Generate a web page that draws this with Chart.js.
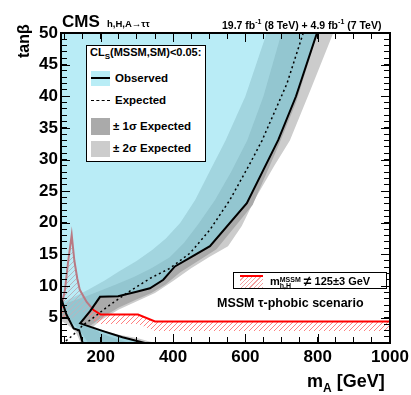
<!DOCTYPE html>
<html>
<head>
<meta charset="utf-8">
<script src="https://cdn.jsdelivr.net/npm/chart.js@4.4.0/dist/chart.umd.min.js"></script>
<style>
  body { margin: 0; background: #fff; }
  #wrap { position: relative; width: 411px; height: 395px; font-family: "Liberation Sans", Arial, sans-serif; font-weight: bold; color: #000; }
  #c { position: absolute; left: 0; top: 0; }
  .t { position: absolute; white-space: nowrap; line-height: 1; }
  .box { position: absolute; background: #fff; border: 1.5px solid #000; box-sizing: border-box; }
  .sw { position: absolute; }
  .tk { position: absolute; background: #000; }
</style>
</head>
<body>
<div id="wrap">
  <canvas id="c" width="411" height="395"></canvas>

  <div class="t" style="left:62px;top:13px;font-size:17px;">CMS</div>
  <div class="t" style="left:107px;top:19px;font-size:9.5px;">h,H,A&rarr;&tau;&tau;</div>
  <div class="t" style="left:222px;top:18px;font-size:10.5px;">19.7 fb<sup style="font-size:7px">-1</sup> (8 TeV) + 4.9 fb<sup style="font-size:7px">-1</sup> (7 TeV)</div>
  <div class="t" style="left:16px;top:58px;font-size:16px;transform:rotate(-90deg);transform-origin:0 0;">tan&beta;</div>
  <div class="t" style="left:307px;top:372px;font-size:18px;">m<sub style="font-size:12px">A</sub> [GeV]</div>

  <div class="box" style="left:86px;top:45px;width:120px;height:117px;"></div>
  <div class="t" style="left:90px;top:47px;font-size:11px;">CL<sub style="font-size:8px">S</sub>(MSSM,SM)&lt;0.05:</div>
  <div class="sw" style="left:91px;top:71px;width:19px;height:15px;background:#b9edf6;"></div>
  <div class="sw" style="left:91px;top:77px;width:19px;height:2px;background:#000;"></div>
  <div class="t" style="left:115px;top:73px;font-size:11.5px;">Observed</div>
  <div class="sw" style="left:91px;top:100px;width:19px;height:0;border-top:1.5px dashed #000;"></div>
  <div class="t" style="left:115px;top:95px;font-size:11.5px;">Expected</div>
  <div class="sw" style="left:91px;top:118px;width:19px;height:17px;background:#aaaaaa;"></div>
  <div class="t" style="left:113px;top:121px;font-size:11.5px;">&plusmn; 1&sigma; Expected</div>
  <div class="sw" style="left:91px;top:141px;width:19px;height:16px;background:#cccccc;"></div>
  <div class="t" style="left:113px;top:143px;font-size:11.5px;">&plusmn; 2&sigma; Expected</div>

  <div class="box" style="left:233px;top:272px;width:154px;height:17px;border-width:1px;"></div>
  <div class="sw" style="left:240px;top:275px;width:23px;height:11px;border-top:2px solid #ff0000;background:repeating-linear-gradient(135deg,#fff 0 2px,#f4a0a0 2px 3px);"></div>
  <div class="t" style="left:270px;top:274px;font-size:11px;">m<span style="display:inline-block;vertical-align:-3px;line-height:0.9;font-size:7px;">MSSM<br>h,H</span> <span style="font-size:14px;vertical-align:-1px">&ne;</span> 125&plusmn;3 GeV</div>
  <div class="t" style="left:217px;top:297px;font-size:12.5px;">MSSM &tau;-phobic scenario</div>
</div>

<script>
// axis ticks (labelled ones, plus the minor steps)
const xTicks = [200, 400, 600, 800, 1000];
const yTicks = [5, 10, 15, 20, 25, 30, 35, 40, 45, 50];
const xMinorStep = 50;
const yMinorStep = 1;

// observed contour, main branch (mA, tanb)
const obsM = [798, 740, 691, 604, 502, 451, 405, 373, 336, 299, 248, 198, 170, 143, 200, 260, 322];
const obsT = [50, 40, 33.1, 23.1, 16.3, 14.6, 13.1, 11.0, 9.65, 9.1, 8.4, 8.3, 6.0, 4.1, 3.0, 1.9, 1.0];
// observed contour around the low mA pocket
const obsPocketM = [150, 140, 125, 105, 92, 90];
const obsPocketT = [1.0, 3.0, 3.3, 5.5, 7.8, 8.2];

// expected contour
const expM = [760, 715, 646, 613, 557, 502, 447, 391, 336, 275, 220, 175, 150, 130, 110, 95];
const expT = [50, 42, 33, 29.4, 23.6, 18.9, 15.2, 12.8, 11.2, 9.0, 6.8, 4.8, 3.8, 2.6, 1.6, 1.0];

// -2 sigma / +2 sigma contours
const m2M = [659, 600, 545, 500, 461, 420, 380, 342, 300, 250, 212, 165, 130, 100, 90];
const m2T = [50, 40, 33, 28, 23.6, 20, 17.5, 15.7, 14, 12.3, 10.9, 9.4, 8.4, 7.6, 7.4];
const m2PocketM = [90, 110, 130, 145];
const m2PocketT = [4.5, 3.8, 2.8, 1.0];
const p2LowM = [350, 300, 250, 210, 180];
const p2LowT = [1.0, 1.8, 2.3, 2.9, 3.6];
const p2UpM = [200, 250, 300, 350, 400, 450, 500, 552, 590, 625, 680, 723, 780, 843];
const p2UpT = [4.6, 6.3, 7.6, 8.9, 10.8, 12.8, 14.6, 16.3, 19.5, 23.6, 29, 33, 41, 50];

// -1 sigma / +1 sigma contours
const m1M = [700, 650, 605, 560, 516, 470, 430, 390, 340, 290, 240, 200, 160, 130, 100, 90];
const m1T = [50, 40, 33, 28, 23.6, 19.8, 16.8, 14.5, 12.8, 11.4, 10.2, 9.3, 8.4, 7.8, 7.2, 7.0];
const m1PocketM = [90, 110, 130, 150, 165];
const m1PocketT = [5.2, 4.6, 3.8, 2.4, 1.0];
const p1LowM = [280, 240, 200, 170];
const p1LowT = [1.0, 1.7, 2.5, 3.7];
const p1UpM = [200, 250, 300, 340, 380, 420, 470, 520, 580, 620, 690, 740, 800];
const p1UpT = [4.9, 6.6, 7.9, 8.9, 10.3, 12.2, 14.0, 15.8, 20, 22.8, 32, 39, 50];

// m_h,H != 125+-3 GeV boundary and its hatched side
const mhM = [90, 101, 110, 119.6, 127, 135, 142, 161, 180, 200, 303, 350, 1000];
const mhT = [6.5, 9.4, 14, 18.1, 14, 11.2, 9.4, 7.5, 6.2, 5.5, 5.5, 4.4, 4.4];
const mhLowM = [90, 125, 145, 165, 185, 200, 303, 350, 1000];
const mhLowT = [5.0, 5.0, 6.0, 5.5, 4.3, 4.0, 4.0, 2.9, 2.9];

const pts = (ms, ts) => ms.map((m, i) => ({x: m, y: ts[i]}));
const rev = a => a.slice().reverse();

const obsPoly = [{x: 90, y: 50}].concat(pts(obsM, obsT), pts(obsPocketM, obsPocketT));
const twoSigPoly = pts(m2M, m2T).concat(pts(m2PocketM, m2PocketT), pts(p2LowM, p2LowT), pts(p2UpM, p2UpT));
const oneSigPoly = pts(m1M, m1T).concat(pts(m1PocketM, m1PocketT), pts(p1LowM, p1LowT), pts(p1UpM, p1UpT));
const hatchPoly = pts(mhM, mhT).concat(rev(pts(mhLowM, mhLowT)));

const steps = (from, to, step) => { const a = []; for (let v = from; v <= to; v += step) a.push({value: v}); return a; };

const canvas = document.getElementById('c');
const ctx = canvas.getContext('2d');

// diagonal hatch tile, drawn pixel by pixel
function hatch(color) {
    const t = document.createElement('canvas');
    t.width = 5; t.height = 5;
    const g = t.getContext('2d');
    g.fillStyle = color;
    for (let i = 0; i < 5; i++) g.fillRect(i, 4 - i, 1, 1);
    return ctx.createPattern(t, 'repeat');
}

const tickFont = {family: 'Liberation Sans', size: 17, weight: 'bold'};
const area = (data, color, order) => ({data, showLine: true, borderWidth: 0, borderColor: 'rgba(0,0,0,0)', fill: 'shape', backgroundColor: color, pointRadius: 0, order});
const line = (data, color, width, order, dash) => ({data, showLine: true, borderColor: color, borderWidth: width, borderDash: dash || [], fill: false, pointRadius: 0, order});

// inward tick marks and frame, drawn above the datasets
const inGrid = {display: true, drawOnChartArea: false, drawTicks: true, tickLength: -6, tickColor: '#000', tickWidth: 1, z: 1};
const frameBorder = {display: true, color: '#000', width: 2, z: 1};

const chart = new Chart(ctx, {
    type: 'scatter',
    data: {
        datasets: [
            line(pts(obsM, obsT), '#000', 2, 0),
            line(pts(obsPocketM, obsPocketT), '#000', 2, 0),
            line(pts(expM, expT), '#000', 1.5, 0, [2, 3]),
            area(obsPoly, 'rgba(128,220,239,0.55)', 1),
            line(pts(mhM, mhT), '#ff0000', 2, 2),
            area(hatchPoly, hatch('#ff8080'), 3),
            area(oneSigPoly, '#aaaaaa', 4),
            area(twoSigPoly, '#cccccc', 5)
        ]
    },
    options: {
        responsive: false,
        animation: false,
        devicePixelRatio: 1,
        layout: {padding: {left: 0, top: 33, right: 21, bottom: 0}},
        plugins: {legend: {display: false}, tooltip: {enabled: false}},
        elements: {line: {tension: 0}},
        scales: {
            x: {
                type: 'linear', position: 'bottom', min: 90, max: 1000,
                afterBuildTicks: s => { s.ticks = steps(100, 1000, xMinorStep); },
                afterFit: s => { s.height = 52; s.paddingRight = 0; s.paddingLeft = 0; },
                ticks: {font: tickFont, color: '#000', padding: 10, maxRotation: 0, autoSkip: false,
                        callback: v => xTicks.includes(v) ? String(v) : ''},
                grid: inGrid,
                border: frameBorder
            },
            y: {
                type: 'linear', position: 'left', min: 1, max: 50,
                afterBuildTicks: s => { s.ticks = steps(1, 50, yMinorStep); },
                afterFit: s => { s.width = 61; s.paddingTop = 0; s.paddingBottom = 0; },
                ticks: {font: tickFont, color: '#000', padding: 9, autoSkip: false,
                        callback: v => yTicks.includes(v) ? String(v) : ''},
                grid: inGrid,
                border: frameBorder
            },
            x2: {
                type: 'linear', position: 'top', axis: 'x', min: 90, max: 1000,
                afterBuildTicks: s => { s.ticks = steps(100, 1000, xMinorStep); },
                afterFit: s => { s.height = 0; s.paddingRight = 0; s.paddingLeft = 0; },
                ticks: {display: false},
                grid: inGrid,
                border: frameBorder
            },
            y2: {
                type: 'linear', position: 'right', axis: 'y', min: 1, max: 50,
                afterBuildTicks: s => { s.ticks = steps(1, 50, yMinorStep); },
                afterFit: s => { s.width = 0; s.paddingTop = 0; s.paddingBottom = 0; },
                ticks: {display: false},
                grid: inGrid,
                border: frameBorder
            }
        }
    }
});

// longer major ticks on top, placed from the chart scales
try {
    const wrap = document.getElementById('wrap');
    const a = chart.chartArea, x = chart.scales.x, y = chart.scales.y;
    const bar = (l, t, w, h) => {
        const d = document.createElement('div');
        d.className = 'tk';
        d.style.cssText = 'left:' + l + 'px;top:' + t + 'px;width:' + w + 'px;height:' + h + 'px;';
        wrap.appendChild(d);
    };
    xTicks.forEach(v => {
        const px = Math.round(x.getPixelForValue(v));
        bar(px, a.bottom - 9, 1, 9);
        bar(px, a.top, 1, 9);
    });
    yTicks.forEach(v => {
        const py = Math.round(y.getPixelForValue(v));
        bar(a.left, py, 9, 1);
        bar(a.right - 9, py, 9, 1);
    });
} catch (e) {}
</script>
</body>
</html>
